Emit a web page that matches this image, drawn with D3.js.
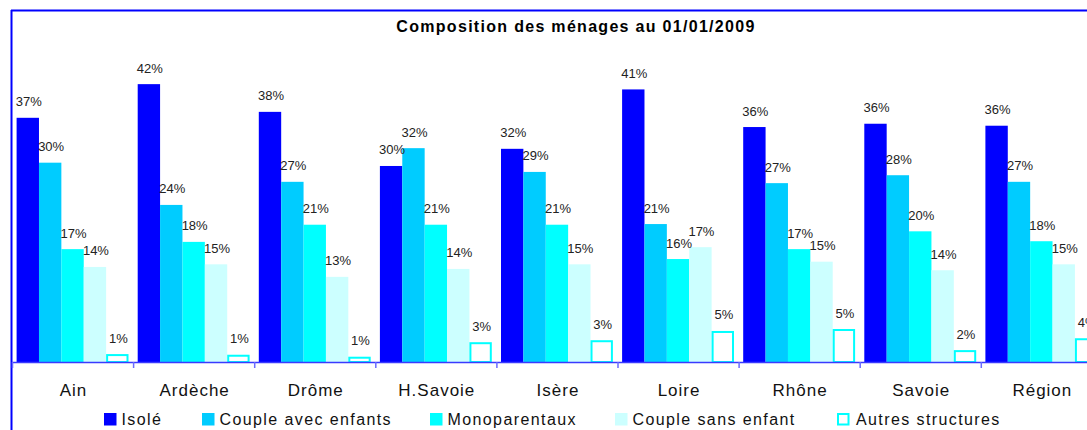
<!DOCTYPE html>
<html>
<head>
<meta charset="utf-8">
<script src="https://cdn.jsdelivr.net/npm/d3@7"></script>
<style>
  html, body { margin: 0; padding: 0; background: #fff; }
  svg { display: block; font-family: "Liberation Sans", Arial, sans-serif; }
</style>
</head>
<body>
<svg id="chart" width="1087" height="430"></svg>
<script>
const title = "Composition des ménages au 01/01/2009";
const categories = ["Ain", "Ardèche", "Drôme", "H.Savoie", "Isère", "Loire", "Rhône", "Savoie", "Région"];
const seriesNames = ["Isolé", "Couple avec enfants", "Monoparentaux", "Couple sans enfant", "Autres structures"];
const isole = [0.370, 0.421, 0.379, 0.297, 0.323, 0.413, 0.356, 0.361, 0.358];
const coupleAvecEnfants = [0.302, 0.238, 0.273, 0.324, 0.288, 0.209, 0.271, 0.283, 0.273];
const monoparentaux = [0.171, 0.182, 0.208, 0.208, 0.208, 0.156, 0.171, 0.198, 0.183];
const coupleSansEnfant = [0.144, 0.148, 0.129, 0.141, 0.148, 0.174, 0.152, 0.139, 0.148];
const autres = [0.012, 0.011, 0.008, 0.030, 0.033, 0.047, 0.050, 0.018, 0.036];
const seriesValues = [isole, coupleAvecEnfants, monoparentaux, coupleSansEnfant, autres];
const fills = ["#0000ff", "#00ccff", "#00ffff", "#ccffff", "#ffffff"];
const strokes = [null, null, null, null, "#00ffff"];
const legendX = [104, 202, 430, 615, 837];

const svg = d3.select("#chart");

// frame
svg.append("line").attr("x1", 11).attr("x2", 1087).attr("y1", 10.5).attr("y2", 10.5)
  .attr("stroke", "#0000ff").attr("stroke-width", 2);
svg.append("line").attr("x1", 11.5).attr("x2", 11.5).attr("y1", 10).attr("y2", 430)
  .attr("stroke", "#0000ff").attr("stroke-width", 2);

// title
svg.append("text").attr("x", 576).attr("y", 32).attr("text-anchor", "middle")
  .attr("font-size", 16).attr("font-weight", "bold").attr("letter-spacing", "1.3px")
  .attr("fill", "#000").text(title);

const baseY = 362;
const groupW = 121.1;
const x0 = d3.scaleBand().domain(categories).range([12, 12 + groupW * categories.length]).padding(0);
const x1 = d3.scaleBand().domain(seriesNames).range([4.6, groupW - 4.6]).padding(0);
const y = d3.scaleLinear().domain([0, 0.45]).range([baseY, baseY - 0.45 * 660]);

const data = [];
categories.forEach((c, i) => {
  seriesNames.forEach((s, j) => {
    data.push({ cat: c, ser: s, j: j, v: seriesValues[j][i] });
  });
});

const g = svg.append("g");
g.selectAll("rect.bar").data(data).enter().append("rect")
  .attr("class", "bar")
  .attr("x", d => x0(d.cat) + x1(d.ser) + (strokes[d.j] ? 1 : 0))
  .attr("y", d => y(d.v) + (strokes[d.j] ? 1 : 0))
  .attr("width", d => x1.bandwidth() - (strokes[d.j] ? 2 : 0))
  .attr("height", d => baseY - y(d.v) - (strokes[d.j] ? 1 : 0))
  .attr("fill", d => fills[d.j])
  .attr("stroke", d => strokes[d.j] || "none")
  .attr("stroke-width", 2);

g.selectAll("text.lbl").data(data).enter().append("text")
  .attr("class", "lbl")
  .attr("x", d => x0(d.cat) + x1(d.ser) + x1.bandwidth() / 2 + 1)
  .attr("y", d => y(d.v) - 11.5)
  .attr("text-anchor", "middle")
  .attr("font-size", 13)
  .attr("fill", "#222")
  .text(d => d3.format(".0%")(d.v));

// axis
const axis = d3.axisBottom(x0).tickSize(0).tickFormat("");
const ax = svg.append("g").attr("transform", `translate(0,${baseY})`).call(axis);
ax.select(".domain").attr("stroke", "#3a3aff").attr("stroke-width", 1.5).attr("d", "M12,0.5H1087");
ax.selectAll(".tick").remove();
svg.selectAll("line.sep").data(d3.range(categories.length + 1)).enter().append("line")
  .attr("class", "sep")
  .attr("x1", i => (i < categories.length ? x0(categories[i]) : x0.range()[1]) + 0.5)
  .attr("x2", i => (i < categories.length ? x0(categories[i]) : x0.range()[1]) + 0.5)
  .attr("y1", baseY).attr("y2", baseY + 6)
  .attr("stroke", "#6a6aff").attr("stroke-width", 1.5);

svg.selectAll("text.cat").data(categories).enter().append("text")
  .attr("class", "cat")
  .attr("x", c => x0(c) + x0.bandwidth() / 2 + 1)
  .attr("y", 396)
  .attr("text-anchor", "middle")
  .attr("font-size", 17)
  .attr("letter-spacing", "1px")
  .attr("fill", "#111")
  .text(c => c);

// legend
const lg = svg.selectAll("g.leg").data(seriesNames).enter().append("g")
  .attr("class", "leg")
  .attr("transform", (s, j) => `translate(${legendX[j]},413)`);
lg.append("rect")
  .attr("x", (s, j) => strokes[j] ? 1 : 0)
  .attr("y", (s, j) => strokes[j] ? 1 : 0)
  .attr("width", (s, j) => strokes[j] ? 10.5 : 12.5)
  .attr("height", (s, j) => strokes[j] ? 10.5 : 12.5)
  .attr("fill", (s, j) => fills[j])
  .attr("stroke", (s, j) => strokes[j] || "none")
  .attr("stroke-width", 2);
lg.append("text")
  .attr("x", (s, j) => strokes[j] ? 19 : 17.5)
  .attr("y", 11.5)
  .attr("font-size", 16)
  .attr("letter-spacing", "1.4px")
  .attr("fill", "#111")
  .text(s => s);
</script>
</body>
</html>
